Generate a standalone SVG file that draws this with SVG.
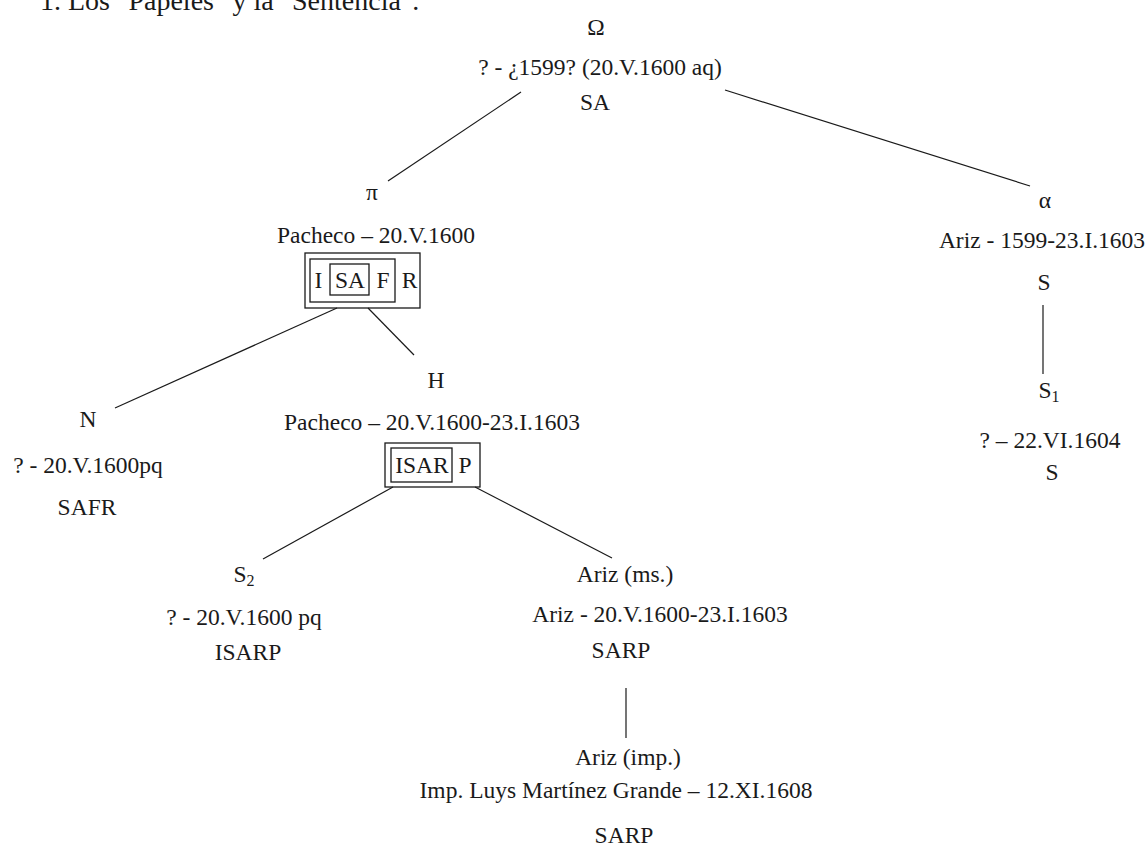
<svg xmlns="http://www.w3.org/2000/svg" width="1148" height="848" viewBox="0 0 1148 848">
<style>
text{font-family:"Liberation Serif","Times New Roman",serif;font-size:23.5px;fill:#1a1a1a}
.c{text-anchor:middle}
.h{font-size:28px}
.sub{font-size:16px}
.ln{stroke:#1a1a1a;stroke-width:1.2;fill:none}
.bx{stroke:#1a1a1a;stroke-width:1.3;fill:none}
</style>
<rect width="1148" height="848" fill="#ffffff"/>
<text class="h" x="40" y="10">1. Los "Papeles" y la "Sentencia".</text>
<g id="connectors">
<line class="ln" x1="521" y1="92" x2="388" y2="181"/>
<line class="ln" x1="725" y1="90" x2="1030" y2="186"/>
<line class="ln" x1="337" y1="308" x2="115" y2="408"/>
<line class="ln" x1="368" y1="308" x2="414" y2="355"/>
<line class="ln" x1="1043" y1="305" x2="1043" y2="374"/>
<line class="ln" x1="393" y1="487" x2="263" y2="559"/>
<line class="ln" x1="475" y1="487" x2="612" y2="558"/>
<line class="ln" x1="626" y1="688" x2="626" y2="738"/>
</g>
<g id="omega">
<text class="c" x="596" y="35">Ω</text>
<text class="c" x="600" y="75">? - ¿1599? (20.V.1600 aq)</text>
<text class="c" x="595" y="110">SA</text>
</g>
<g id="pi">
<text class="c" x="372" y="200">π</text>
<text class="c" x="376" y="243">Pacheco – 20.V.1600</text>
<rect class="bx" x="305" y="253" width="115" height="55"/>
<rect class="bx" x="310" y="259" width="85" height="43"/>
<rect class="bx" x="330" y="264" width="39" height="31"/>
<text class="c" x="318.5" y="288">I</text>
<text class="c" x="350" y="288">SA</text>
<text class="c" x="383" y="288">F</text>
<text class="c" x="409.5" y="288">R</text>
</g>
<g id="alpha">
<text class="c" x="1045" y="208">α</text>
<text class="c" x="1042" y="248">Ariz - 1599-23.I.1603</text>
<text class="c" x="1044" y="290">S</text>
</g>
<g id="s1">
<text class="c" x="1049" y="398">S<tspan class="sub" dy="4">1</tspan></text>
<text class="c" x="1050" y="448">? – 22.VI.1604</text>
<text class="c" x="1052" y="480">S</text>
</g>
<g id="n">
<text class="c" x="88" y="427">N</text>
<text class="c" x="88" y="473">? - 20.V.1600pq</text>
<text class="c" x="87" y="515">SAFR</text>
</g>
<g id="h">
<text class="c" x="436" y="388">H</text>
<text class="c" x="432" y="430">Pacheco – 20.V.1600-23.I.1603</text>
<rect class="bx" x="385" y="443" width="95" height="44"/>
<rect class="bx" x="391" y="448" width="61" height="34"/>
<text class="c" x="422" y="473">ISAR</text>
<text class="c" x="465" y="473">P</text>
</g>
<g id="s2">
<text class="c" x="244" y="582">S<tspan class="sub" dy="4">2</tspan></text>
<text class="c" x="244" y="625">? - 20.V.1600 pq</text>
<text class="c" x="248" y="660">ISARP</text>
</g>
<g id="ariz-ms">
<text class="c" x="625" y="582">Ariz (ms.)</text>
<text class="c" x="660" y="622">Ariz - 20.V.1600-23.I.1603</text>
<text class="c" x="621" y="658">SARP</text>
</g>
<g id="ariz-imp">
<text class="c" x="628" y="765">Ariz (imp.)</text>
<text class="c" x="616" y="798">Imp. Luys Martínez Grande – 12.XI.1608</text>
<text class="c" x="624" y="843">SARP</text>
</g>
</svg>
